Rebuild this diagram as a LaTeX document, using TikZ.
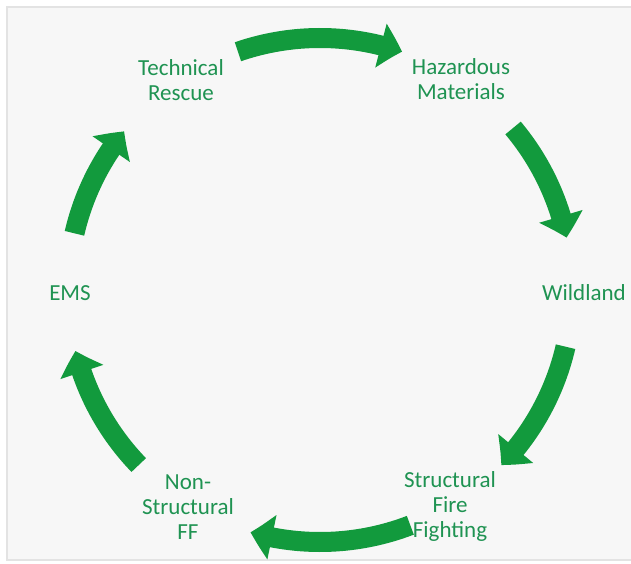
\documentclass[tikz,border=0pt]{standalone}
\usepackage{fontspec}
\setmainfont{Carlito}
\usetikzlibrary{arrows.meta,bending}
\definecolor{cyclegreen}{HTML}{129A3D}
\definecolor{labelgreen}{HTML}{1F9352}
\tikzset{
  cyclearrow/.style={cyclegreen,line width=20pt,-{Triangle[length=22pt,width=44pt,bend]}},
  cyclelabel/.style={text=labelgreen,align=center,font=\fontsize{23}{25}\selectfont}
}
\begin{document}
\begin{tikzpicture}[x=1pt,y=1pt]
% background panel
\useasboundingbox (0,0) rectangle (631,563);
\fill[white] (0,0) rectangle (631,563);
\filldraw[fill=black!3,draw=black!11,line width=1.5pt] (7,3) rectangle (634,556);
\coordinate (c) at (320,273);
% labels
\node[cyclelabel] (tech) at (181,483) {Technical\\Rescue};
\node[cyclelabel] (hazmat) at (461,484) {Hazardous\\Materials};
\node[cyclelabel] (wild) at (584,270) {Wildland};
\node[cyclelabel] (struct) at (450,57) {Structural\\Fire\\Fighting};
\node[cyclelabel] (nonstruct) at (188,56) {Non-\\Structural\\FF};
\node[cyclelabel] (ems) at (70,270) {EMS};
% arrows, clockwise
\draw[cyclearrow] (c) ++(109:252) arc[start angle=109,end angle=71,radius=252];
\draw[cyclearrow] (c) ++(40:252) arc[start angle=40,end angle=12,radius=252];
\draw[cyclearrow] (c) ++(-13:252) arc[start angle=-13,end angle=-44,radius=252];
\draw[cyclearrow] (c) ++(-69:252) arc[start angle=-69,end angle=-106,radius=252];
\draw[cyclearrow] (c) ++(-136:252) arc[start angle=-136,end angle=-166,radius=252];
\draw[cyclearrow] (c) ++(167:252) arc[start angle=167,end angle=141,radius=252];
\end{tikzpicture}
\end{document}
